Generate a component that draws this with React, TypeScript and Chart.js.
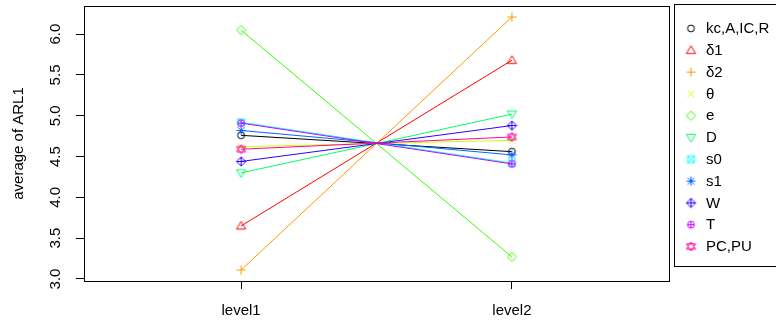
import React, { useEffect, useRef } from "react";
import { Chart, registerables } from "chart.js";

Chart.register(...registerables);

const categories = ["level1", "level2"];
const seriesLabels = ["kc,A,IC,R", "δ1", "δ2", "θ", "e", "D", "s0", "s1", "W", "T", "PC,PU"];
const level1Values = [4.76, 3.65, 3.11, 4.62, 6.05, 4.3, 4.92, 4.82, 4.44, 4.91, 4.59];
const level2Values = [4.56, 5.68, 6.21, 4.7, 3.27, 5.02, 4.42, 4.52, 4.88, 4.41, 4.74];
const seriesColors = ["#000000", "#FF0000", "#FF9900", "#CCFF00", "#33FF00", "#00FF66", "#00FFFF", "#0066FF", "#3300FF", "#CC00FF", "#FF0099"];
const markerKinds = ["circle", "triUp", "plus", "cross", "diamond", "triDown", "squareX", "asterisk", "diamondPlus", "circlePlus", "starDavid"];
const yTickValues = [3.0, 3.5, 4.0, 4.5, 5.0, 5.5, 6.0];
const yTitle = "average of ARL1";

const FONT = "'Liberation Sans', Arial, sans-serif";

function makeMarker(kind: string, color: string): HTMLCanvasElement {
  const cv = document.createElement("canvas");
  cv.width = 15;
  cv.height = 15;
  const ctx = cv.getContext("2d")!;
  const c = 7.5;
  ctx.strokeStyle = color;
  ctx.lineWidth = 1;
  const r = 3.4;
  const t = 4.6;
  const line = (x1: number, y1: number, x2: number, y2: number) => {
    ctx.beginPath();
    ctx.moveTo(x1, y1);
    ctx.lineTo(x2, y2);
    ctx.stroke();
  };
  const circle = () => {
    ctx.beginPath();
    ctx.arc(c, c, r, 0, Math.PI * 2);
    ctx.stroke();
  };
  const triUp = () => {
    ctx.beginPath();
    ctx.moveTo(c, c - t);
    ctx.lineTo(c - t, c + 3.2);
    ctx.lineTo(c + t, c + 3.2);
    ctx.closePath();
    ctx.stroke();
  };
  const triDown = () => {
    ctx.beginPath();
    ctx.moveTo(c, c + t);
    ctx.lineTo(c - t, c - 3.2);
    ctx.lineTo(c + t, c - 3.2);
    ctx.closePath();
    ctx.stroke();
  };
  const plus = (s: number) => {
    line(c - s, c, c + s, c);
    line(c, c - s, c, c + s);
  };
  const cross = (s: number) => {
    line(c - s, c - s, c + s, c + s);
    line(c - s, c + s, c + s, c - s);
  };
  const diamond = () => {
    ctx.beginPath();
    ctx.moveTo(c, c - t);
    ctx.lineTo(c + t, c);
    ctx.lineTo(c, c + t);
    ctx.lineTo(c - t, c);
    ctx.closePath();
    ctx.stroke();
  };
  switch (kind) {
    case "circle":
      circle();
      break;
    case "triUp":
      triUp();
      break;
    case "plus":
      plus(t);
      break;
    case "cross":
      cross(r);
      break;
    case "diamond":
      diamond();
      break;
    case "triDown":
      triDown();
      break;
    case "squareX":
      ctx.strokeRect(c - r, c - r, 2 * r, 2 * r);
      cross(r);
      break;
    case "asterisk":
      plus(t);
      cross(r);
      break;
    case "diamondPlus":
      diamond();
      plus(t);
      break;
    case "circlePlus":
      circle();
      plus(r);
      break;
    case "starDavid":
      ctx.beginPath();
      ctx.moveTo(c, c - t);
      ctx.lineTo(c - t, c + 2.6);
      ctx.lineTo(c + t, c + 2.6);
      ctx.closePath();
      ctx.stroke();
      ctx.beginPath();
      ctx.moveTo(c, c + t);
      ctx.lineTo(c - t, c - 2.6);
      ctx.lineTo(c + t, c - 2.6);
      ctx.closePath();
      ctx.stroke();
      break;
  }
  return cv;
}

const frameAndLabels = {
  id: "frameAndLabels",
  afterDraw(chart: any) {
    const { ctx, chartArea } = chart;
    const y = chart.scales.y;
    ctx.save();
    ctx.strokeStyle = "#000";
    ctx.lineWidth = 1;
    ctx.strokeRect(
      Math.round(chartArea.left) + 0.5,
      Math.round(chartArea.top) + 0.5,
      Math.round(chartArea.right - chartArea.left),
      Math.round(chartArea.bottom - chartArea.top)
    );
    ctx.fillStyle = "#000";
    ctx.font = `15px ${FONT}`;
    ctx.textAlign = "center";
    ctx.textBaseline = "middle";
    y.ticks.forEach((tk: any) => {
      const py = y.getPixelForValue(tk.value);
      ctx.save();
      ctx.translate(56, py);
      ctx.rotate(-Math.PI / 2);
      ctx.fillText(Number(tk.value).toFixed(1), 0, 0);
      ctx.restore();
    });
    // legend
    const lx = 674.5;
    const ly = 4.5;
    ctx.strokeRect(lx, ly, 120, 262);
    ctx.textAlign = "left";
    chart.data.datasets.forEach((ds: any, i: number) => {
      const cy = 28.5 + i * 21.8;
      const img = ds.pointStyle as HTMLCanvasElement;
      ctx.drawImage(img, 691 - img.width / 2, cy - img.height / 2);
      ctx.fillStyle = "#000";
      ctx.fillText(ds.label, 706, cy + 0.5);
    });
    ctx.restore();
  },
};

export default function App() {
  const ref = useRef<HTMLCanvasElement>(null);
  useEffect(() => {
    if (!ref.current) return;
    const datasets = seriesLabels.map((label, i) => ({
      label,
      data: categories.map((_, j) => ({ x: j + 1, y: j === 0 ? level1Values[i] : level2Values[i] })),
      borderColor: seriesColors[i],
      backgroundColor: seriesColors[i],
      borderWidth: 1,
      pointStyle: makeMarker(markerKinds[i], seriesColors[i]),
      pointRadius: 5,
      pointHoverRadius: 5,
      order: -i,
      tension: 0,
    }));
    const chart = new Chart(ref.current, {
      type: "line",
      data: { datasets },
      options: {
        animation: false,
        responsive: true,
        maintainAspectRatio: false,
        layout: { padding: { top: 4, right: 107, left: 0, bottom: 0 } },
        plugins: { legend: { display: false }, tooltip: { enabled: false } },
        scales: {
          x: {
            type: "linear",
            min: 0.42,
            max: 2.58,
            afterBuildTicks: (s: any) => {
              s.ticks = categories.map((_, j) => ({ value: j + 1 }));
            },
            afterFit: (s: any) => {
              s.height = 43;
            },
            ticks: {
              callback: (v: any) => categories[Number(v) - 1] ?? "",
              color: "#000",
              font: { family: FONT, size: 15 },
              padding: 13,
              autoSkip: false,
              maxRotation: 0,
            },
            grid: { display: true, drawOnChartArea: false, drawTicks: true, tickLength: 8, color: "#000", lineWidth: 1 },
            border: { display: false },
          },
          y: {
            type: "linear",
            min: 2.975,
            max: 6.345,
            afterBuildTicks: (s: any) => {
              s.ticks = yTickValues.map((v) => ({ value: v }));
            },
            afterFit: (s: any) => {
              s.width = 84;
            },
            ticks: { display: false },
            grid: { display: true, drawOnChartArea: false, drawTicks: true, tickLength: 8, color: "#000", lineWidth: 1 },
            border: { display: false },
            title: {
              display: true,
              text: yTitle,
              color: "#000",
              font: { family: FONT, size: 15 },
              padding: { top: 10, bottom: 0 },
            },
          },
        },
      },
      plugins: [frameAndLabels],
    });
    return () => chart.destroy();
  }, []);
  return (
    <div style={{ position: "fixed", left: 0, top: 0, width: 776, height: 324, background: "#fff" }}>
      <canvas ref={ref} />
    </div>
  );
}
